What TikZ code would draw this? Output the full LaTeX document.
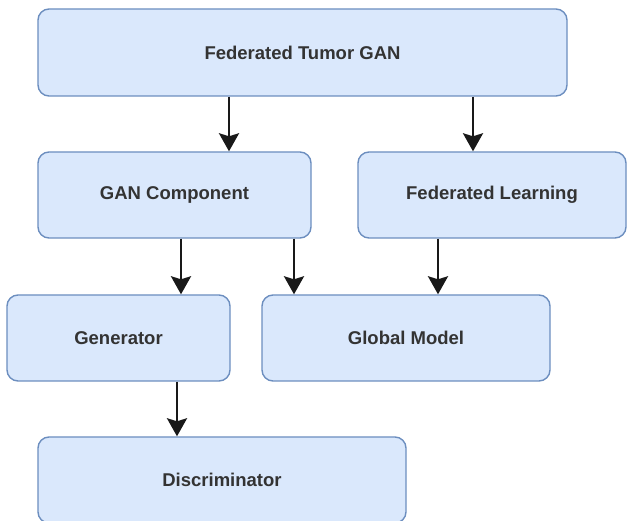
\documentclass[tikz,border=0pt]{standalone}
\usepackage{fontspec}
\setmainfont{Liberation Sans}
\usetikzlibrary{arrows.meta}
\definecolor{boxfill}{HTML}{DAE8FC}
\definecolor{boxline}{HTML}{6C8EBF}
\definecolor{txt}{HTML}{333333}
\tikzset{
  box/.style={draw=boxline, fill=boxfill, line width=1.4pt, rounded corners=11pt,
    inner sep=0pt, align=center, text=txt,
    font=\fontsize{18.5}{22}\selectfont\bfseries},
  arr/.style={draw=black!90, line width=2.6pt,
    -{Stealth[length=18pt,width=20pt,inset=3pt]}}
}
\begin{document}
\begin{tikzpicture}[x=1pt,y=-1pt]
\useasboundingbox (0,0) rectangle (627,521);
\node[box, minimum width=529pt, minimum height=87pt] (b1) at (302.5,52.5) {Federated Tumor GAN};
\node[box, minimum width=273pt, minimum height=86pt] (b2) at (174.5,195) {GAN Component};
\node[box, minimum width=268pt, minimum height=86pt] (b3) at (492,195) {Federated Learning};
\node[box, minimum width=223pt, minimum height=86pt] (b4) at (118.5,338) {Generator};
\node[box, minimum width=288pt, minimum height=86pt] (b5) at (406,338) {Global Model};
\node[box, minimum width=368pt, minimum height=86pt] (b6) at (222,480) {Discriminator};
\draw[arr] ([xshift=-73.5pt]b1.south) -- ([xshift=-73.5pt]b1.south |- b2.north);
\draw[arr] ([xshift=170.5pt]b1.south) -- ([xshift=170.5pt]b1.south |- b3.north);
\draw[arr] ([xshift=6.5pt]b2.south) -- ([xshift=6.5pt]b2.south |- b4.north);
\draw[arr] ([xshift=119.5pt]b2.south) -- ([xshift=119.5pt]b2.south |- b5.north);
\draw[arr] ([xshift=-54pt]b3.south) -- ([xshift=-54pt]b3.south |- b5.north);
\draw[arr] ([xshift=58.5pt]b4.south) -- ([xshift=58.5pt]b4.south |- b6.north);
\end{tikzpicture}
\end{document}
